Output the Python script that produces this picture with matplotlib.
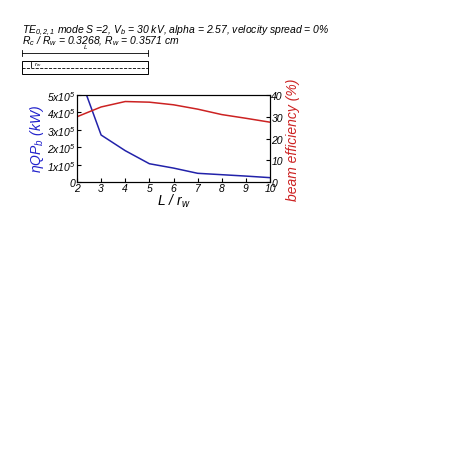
import matplotlib
matplotlib.use('Agg')
import matplotlib.pyplot as plt
from matplotlib.patches import Rectangle

plt.rcParams['font.family'] = ['Liberation Sans', 'DejaVu Sans']
plt.rcParams['mathtext.fontset'] = 'custom'
plt.rcParams['mathtext.rm'] = 'Liberation Sans:italic'
plt.rcParams['mathtext.it'] = 'Liberation Sans:italic'
plt.rcParams['mathtext.default'] = 'it'

# data
L_rw = [2, 3, 4, 5, 6, 7, 8, 9, 10]
power = [6.5e5, 2.7e5, 1.8e5, 1.05e5, 0.8e5, 0.5e5, 0.42e5, 0.34e5, 0.25e5]
eff = [30, 34.5, 37, 36.7, 35.5, 33.5, 31, 29.3, 27.5]

W = H = 452
fig = plt.figure(figsize=(4.52, 4.52), dpi=100)

def fx(p): return p / W
def fy(p): return 1 - p / H

fig.text(fx(22), fy(31), r"TE$_{0,2,1}$ mode S =2, V$_b$ = 30 kV, alpha = 2.57, velocity spread = 0%",
         fontsize=7.5, style='italic', va='center')
fig.text(fx(22), fy(41), r"R$_c$ / R$_w$ = 0.3268, R$_w$ = 0.3571 cm",
         fontsize=7.5, style='italic', va='center')

# cavity sketch
fig.add_artist(Rectangle((fx(22), fy(75)), fx(148) - fx(22), fy(62) - fy(75),
                         transform=fig.transFigure, fill=False, lw=0.7, ec='k'))
fig.add_artist(plt.Line2D([fx(22), fx(148)], [fy(68.5)] * 2, transform=fig.transFigure,
                          ls='--', lw=0.6, color='k'))
fig.add_artist(plt.Line2D([fx(22), fx(148)], [fy(54)] * 2, transform=fig.transFigure,
                          lw=0.6, color='k'))
for xx in (22, 148):
    fig.add_artist(plt.Line2D([fx(xx)] * 2, [fy(51), fy(57)], transform=fig.transFigure,
                              lw=0.6, color='k'))
fig.text(fx(86), fy(50), "L", fontsize=4.5, style='italic', ha='center', va='bottom')
fig.add_artist(plt.Line2D([fx(31)] * 2, [fy(63), fy(68)], transform=fig.transFigure,
                          lw=0.6, color='k'))
fig.text(fx(34), fy(64.5), r"r$_w$", fontsize=4.5, style='italic', va='center')

ax = fig.add_axes([fx(77), fy(183), fx(270) - fx(77), fy(96) - fy(183)])
ax.plot(L_rw, power, color='#2222aa', lw=1.1)
ax.set_xlim(2, 10)
ax.set_ylim(0, 5e5)
ax.set_xticks(range(2, 11))
ax.set_yticks([0, 1e5, 2e5, 3e5, 4e5, 5e5])
ax.set_yticklabels(['0'] + [r"%dx10$^5$" % i for i in range(1, 6)])
ax.tick_params(labelsize=7.5, direction='in', length=3, pad=1)
for t in ax.get_xticklabels() + ax.get_yticklabels():
    t.set_style('italic')
ax.set_xlabel(r"L / r$_w$", fontsize=10, style='italic', labelpad=-1)
ax.set_ylabel(r"$\eta$QP$_b$ (kW)", fontsize=10, style='italic', color='#2222cc', labelpad=1)

ax2 = ax.twinx()
ax2.plot(L_rw, eff, color='#cc2222', lw=1.1)
ax2.set_ylim(0, 40)
ax2.set_yticks([0, 10, 20, 30, 40])
ax2.tick_params(labelsize=7.5, direction='in', length=3, pad=1)
for t in ax2.get_yticklabels():
    t.set_style('italic')
ax2.set_ylabel("beam efficiency (%)", fontsize=10, style='italic', color='#cc2222',
               rotation=90, labelpad=2)

fig.savefig('out.png', dpi=100)
